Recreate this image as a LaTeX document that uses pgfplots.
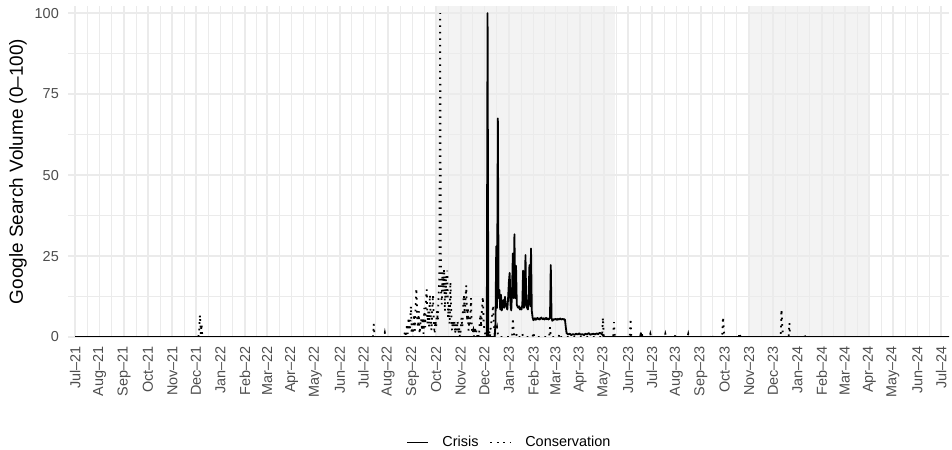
\documentclass[border=0pt]{standalone}
\usepackage{fontspec}
\setmainfont{Liberation Sans}
\usepackage{pgfplots}
\pgfplotsset{compat=1.18}
\definecolor{gridc}{RGB}{235,235,235}
\definecolor{shadec}{RGB}{243,243,243}
\definecolor{ticktext}{RGB}{77,77,77}
\newcommand{\tickfont}{\fontsize{14.5}{17}\selectfont}

% x axis: days since 1 Jul 2021
\begin{document}
\begin{tikzpicture}
\begin{axis}[
    at={(0,0)}, anchor=south west,
    scale only axis, width=881bp, height=331bp,
    set layers,
    xmin=-9, xmax=1106, ymin=0, ymax=102.2,
    axis line style={draw=none},
    tick style={draw=none},
    xtick={0,31,62,92,123,153,184,215,243,274,304,335,365,396,427,457,488,518,549,580,608,639,669,700,730,761,792,822,853,883,914,945,974,1005,1035,1066,1096},
    xticklabels={Jul–21,Aug–21,Sep–21,Oct–21,Nov–21,Dec–21,Jan–22,Feb–22,Mar–22,Apr–22,May–22,Jun–22,Jul–22,Aug–22,Sep–22,Oct–22,Nov–22,Dec–22,Jan–23,Feb–23,Mar–23,Apr–23,May–23,Jun–23,Jul–23,Aug–23,Sep–23,Oct–23,Nov–23,Dec–23,Jan–24,Feb–24,Mar–24,Apr–24,May–24,Jun–24,Jul–24},
    minor xtick={15.5,46.5,77,107.5,138,168.5,199.5,229,258.5,289,319.5,350,380.5,411.5,442,472.5,503,533.5,564.5,594,623.5,654,684.5,715,745.5,776.5,807,837.5,868,898.5,929.5,959.5,989.5,1020,1050.5,1081},
    ytick={0,25,50,75,100},
    minor ytick={12.5,37.5,62.5,87.5},
    grid=both,
    major grid style={gridc, line width=1.6bp},
    minor grid style={gridc, line width=0.8bp},
    xticklabel style={rotate=90, anchor=east, inner sep=0pt, font=\tickfont, text=ticktext},
    yticklabel style={anchor=east, inner sep=0pt, font=\tickfont, text=ticktext},
    xticklabel shift=9bp, yticklabel shift=9bp,
    /pgf/number format/assume math mode=true,
    ylabel={Google Search Volume (0–100)},
    ylabel style={at={(axis description cs:-0.05675,0.5)}, anchor=center, font=\fontsize{19}{22}\selectfont},
    legend columns=2,
    legend cell align=left,
    legend image code/.code={\draw[#1] (0bp,0bp) -- (21bp,0bp);},
    legend style={at={(axis description cs:0.5,-0.3187)}, anchor=center,
        draw=none, fill=none, font=\tickfont, nodes={inner sep=0pt},
        /tikz/every odd column/.append style={column sep=13bp},
        /tikz/every even column/.append style={column sep=11bp}},
]
% shaded periods
\addplot[draw=none, fill=shadec, on layer=axis background, forget plot]
    coordinates {(457,102.2) (683.5,102.2)} \closedcycle;
\addplot[draw=none, fill=shadec, on layer=axis background, forget plot]
    coordinates {(853,102.2) (1005,102.2)} \closedcycle;

% Crisis
\addplot[black, line width=1.8bp, line join=round] coordinates {
(0,0) (521,0) (522,100) (523,0) (531,0) (532,4) (533,28) (534,9) (535,67.5)
(536,12) (537,14.5) (538,8.5) (539,13) (540,8.2) (541,10) (542,11.4) (543,9)
(544,12.4) (545,10) (546,9.3) (547,8.5) (548,12) (549,17) (550,19.8) (551,10)
(552,8.2) (553,14) (554,25.8) (555,12) (556,31.7) (557,12) (558,22) (559,10)
(560,9.3) (561,9) (562,9.5) (563,8.5) (564,9) (565,8.5) (566,10) (567,20.5)
(568,9) (569,12) (570,25.3) (571,9.5) (572,9) (573,8.5) (574,13) (575,22.2)
(576,9.5) (577,27.3) (578,8) (579,6) (580,5.2) (581,5.5) (582,5.8) (583,5.3)
(584,5.6) (585,5.9) (586,5.5) (587,5.7) (588,5.4) (589,5.8) (590,6) (591,5.6)
(592,5.5) (593,5.8) (594,5.4) (595,5.6) (596,5.9) (597,5.5) (598,5.7) (599,5.4)
(600,5.6) (601,6) (602,22.2) (603,5.8) (604,5) (605,5.3) (606,5.5) (607,5.4)
(608,5.6) (609,5.5) (610,5.3) (611,5.6) (612,5.4) (613,5.5) (614,5.7) (615,5.4)
(616,5.5) (617,5.6) (618,5.4) (619,5.5) (620,5.3) (621,3) (622,1.2) (624,0.8)
(626,1) (628,0.6) (630,0.9) (632,0.7) (634,1) (636,0.8) (638,1.1) (640,0.7)
(642,0.9) (644,0.6) (646,1) (648,0.8) (650,1.2) (652,0.7) (654,0.9) (656,1)
(658,0.8) (660,1.1) (662,0.9) (664,1.3) (666,1) (668,0.6) (669,0)
(715,0) (716,1.2) (717,0) (1106,0)
};
\addlegendentry{Crisis}

% Conservation
\addplot[black, line width=1.8bp, dash pattern=on 1.7bp off 4.8bp] coordinates {
(0,0) (156,0) (157,2) (158,6.8) (159,1) (160,4) (161,0)
(377,0) (378,4) (379,0) (391,0) (392,1.3) (393,0)
(416,0) (417,1) (418,2) (419,0) (420,4) (421,1) (422,6) (423,2) (424,3)
(425,9.5) (426,1) (427,4) (428,0) (429,7) (430,2) (431,10) (432,15) (433,5)
(434,3) (435,8) (436,1) (437,4) (438,5.7) (439,2) (440,6) (441,1) (442,9)
(443,3) (444,11) (445,14.7) (446,4) (447,8) (448,3) (449,13) (450,6) (451,2)
(452,9) (453,13) (454,4) (455,1) (456,5) (457,3) (458,8) (459,5) (460,12)
(461,18) (462,100) (463,15) (464,10) (465,20) (466,14) (467,21) (468,8)
(469,19) (470,12) (471,20.5) (472,6) (473,10) (474,4) (475,17) (476,8)
(477,2) (478,5) (479,3) (480,5) (481,1) (482,4) (483,2) (484,5) (485,1)
(486,3) (487,0) (488,2) (489,6) (490,3) (491,9) (492,13) (493,7) (494,11)
(495,16) (496,5) (497,9) (498,2) (499,6) (500,4) (501,12) (502,3) (503,1)
(504,2) (505,0) (506,3) (507,1) (508,2) (509,0) (510,1) (511,0) (512,4)
(513,7) (514,3) (515,9) (516,12.4) (517,5) (518,2) (519,1) (520,0) (521,0)
(522,1) (523,0) (524,2) (525,0) (526,3) (527,5) (528,7) (529,9.8) (530,4)
(531,1) (532,3) (533,2) (534,3) (535,1) (536,0)
(553,0) (554,5.8) (555,2) (556,0) (558,0) (559,1) (560,0) (565,0) (566,1)
(567,0) (579,0) (580,1.5) (581,0) (600,0) (601,3) (602,0) (612,0) (613,1)
(614,0) (667,0) (668,6) (669,0) (681,0) (682,4.6) (683,0) (702,0) (703,5.7)
(704,0) (716,0) (717,1.5) (718,0) (727,0) (728,1) (729,0) (746,0) (747,1)
(748,0) (759,0) (760,1) (761,0) (775,0) (776,1) (777,0) (805,0) (806,1)
(807,0) (819,0) (820,6.2) (821,2) (822,0) (840,0) (841,1.3) (842,0)
(893,0) (894,8.5) (895,3) (896,0) (903,0) (904,4.3) (905,0) (922,0) (923,1)
(924,0) (1106,0)
};
\addlegendentry{Conservation}
\end{axis}
\pgfresetboundingbox
\path[use as bounding box] (-68bp,-113bp) rectangle (884bp,337bp);
\end{tikzpicture}
\end{document}
